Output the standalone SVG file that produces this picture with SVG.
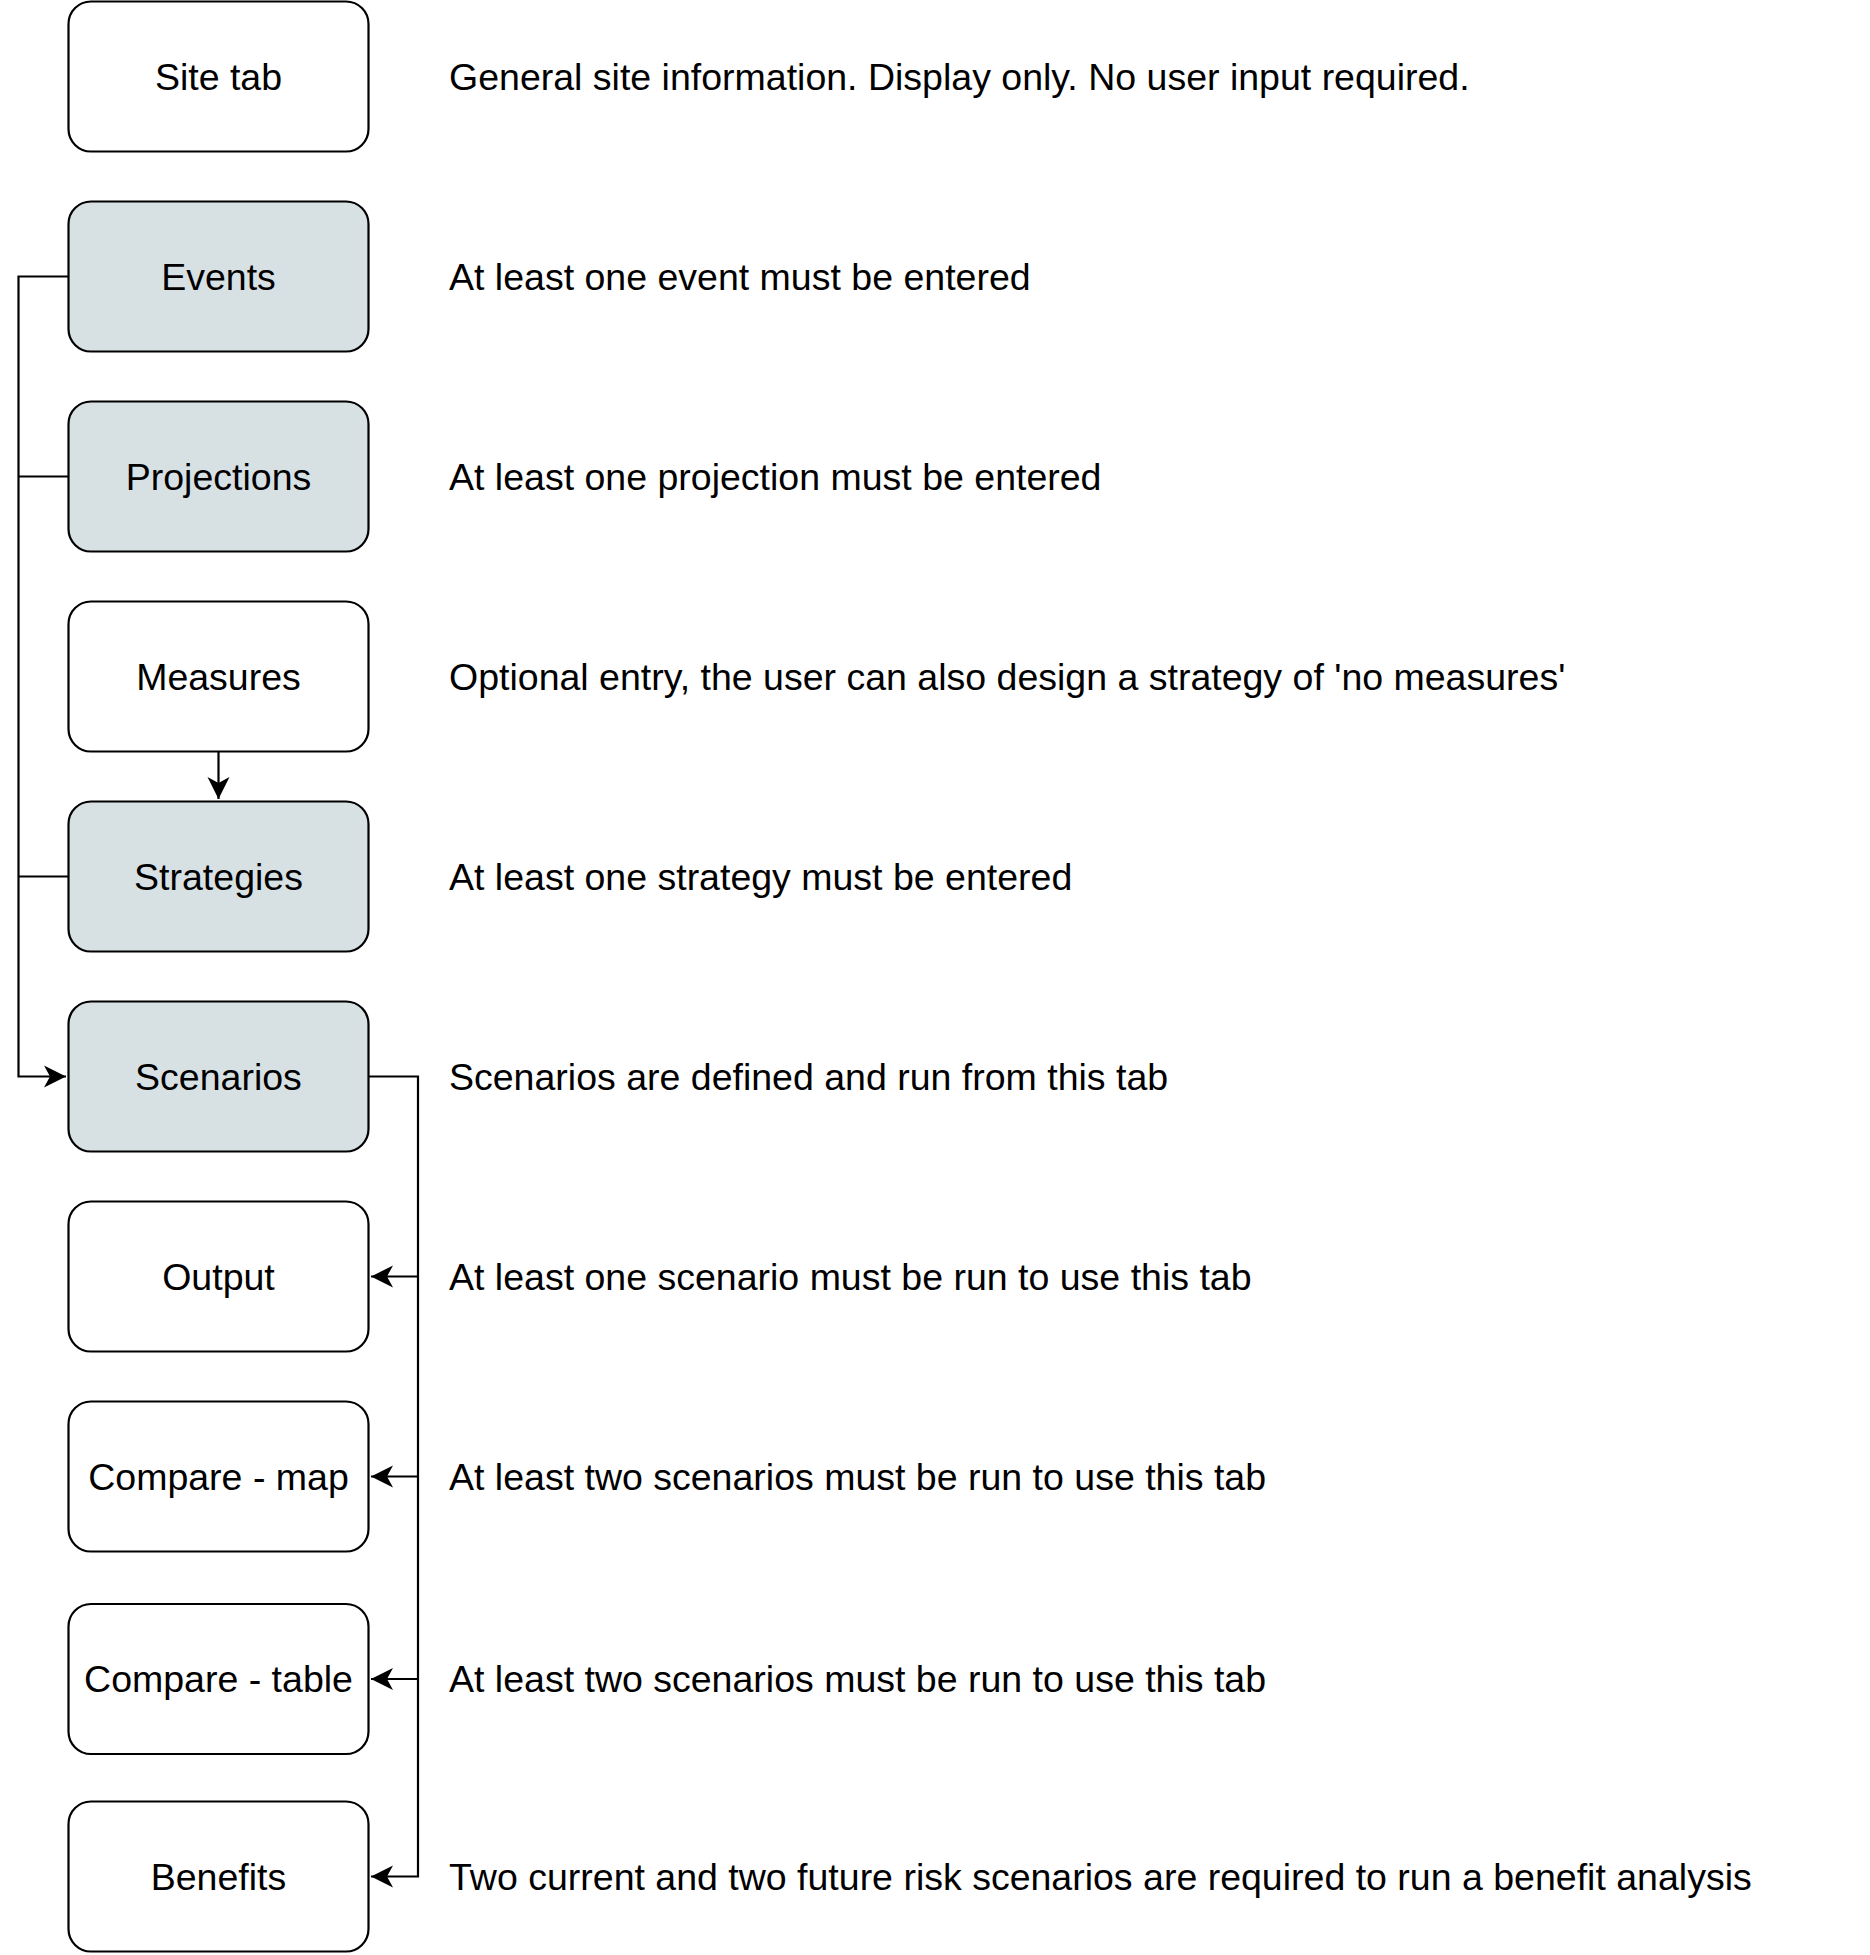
<svg xmlns="http://www.w3.org/2000/svg" width="1870" height="1955" viewBox="0 0 1870 1955">
<style>
.box{fill:#ffffff;stroke:#000000;stroke-width:2.2}
.req{fill:#d7e1e4}
.lbl{font-family:"Liberation Sans",Arial,Helvetica,sans-serif;font-size:37.5px;fill:#000000;text-anchor:middle}
.note{font-family:"Liberation Sans",Arial,Helvetica,sans-serif;font-size:37.5px;fill:#000000}
.edge{fill:none;stroke:#000000;stroke-width:2.2}
</style>
<defs>
<marker id="arr" markerUnits="userSpaceOnUse" markerWidth="24" markerHeight="24" refX="22" refY="11" orient="auto" viewBox="0 0 24 22">
<path d="M22,11 L0,0 L6,11 L0,22 Z" fill="#000000"/>
</marker>
</defs>
<rect width="1870" height="1955" fill="#ffffff"/>
<g id="connectors">
<path class="edge" d="M68.5,276.5 H18.5 V1076.5 H66" marker-end="url(#arr)"/>
<path class="edge" d="M68.5,476.5 H18.5"/>
<path class="edge" d="M68.5,876.5 H18.5"/>
<path class="edge" d="M218.5,751.5 V799" marker-end="url(#arr)"/>
<path class="edge" d="M368.5,1076.5 H418 V1876.5 H371" marker-end="url(#arr)"/>
<path class="edge" d="M418,1276.5 H371" marker-end="url(#arr)"/>
<path class="edge" d="M418,1476.5 H371" marker-end="url(#arr)"/>
<path class="edge" d="M418,1679 H371" marker-end="url(#arr)"/>
</g>
<g id="site">
<rect class="box" x="68.5" y="1.5" width="300" height="150" rx="22.5"/>
<text class="lbl" x="218.5" y="89.5">Site tab</text>
<text class="note" x="449" y="89.5">General site information. Display only. No user input required.</text>
</g>
<g id="events">
<rect class="box req" x="68.5" y="201.5" width="300" height="150" rx="22.5"/>
<text class="lbl" x="218.5" y="289.5">Events</text>
<text class="note" x="449" y="289.5">At least one event must be entered</text>
</g>
<g id="projections">
<rect class="box req" x="68.5" y="401.5" width="300" height="150" rx="22.5"/>
<text class="lbl" x="218.5" y="489.5">Projections</text>
<text class="note" x="449" y="489.5">At least one projection must be entered</text>
</g>
<g id="measures">
<rect class="box" x="68.5" y="601.5" width="300" height="150" rx="22.5"/>
<text class="lbl" x="218.5" y="689.5">Measures</text>
<text class="note" x="449" y="689.5">Optional entry, the user can also design a strategy of 'no measures'</text>
</g>
<g id="strategies">
<rect class="box req" x="68.5" y="801.5" width="300" height="150" rx="22.5"/>
<text class="lbl" x="218.5" y="889.5">Strategies</text>
<text class="note" x="449" y="889.5">At least one strategy must be entered</text>
</g>
<g id="scenarios">
<rect class="box req" x="68.5" y="1001.5" width="300" height="150" rx="22.5"/>
<text class="lbl" x="218.5" y="1089.5">Scenarios</text>
<text class="note" x="449" y="1089.5">Scenarios are defined and run from this tab</text>
</g>
<g id="output">
<rect class="box" x="68.5" y="1201.5" width="300" height="150" rx="22.5"/>
<text class="lbl" x="218.5" y="1289.5">Output</text>
<text class="note" x="449" y="1289.5">At least one scenario must be run to use this tab</text>
</g>
<g id="compare-map">
<rect class="box" x="68.5" y="1401.5" width="300" height="150" rx="22.5"/>
<text class="lbl" x="218.5" y="1489.5">Compare - map</text>
<text class="note" x="449" y="1489.5">At least two scenarios must be run to use this tab</text>
</g>
<g id="compare-table">
<rect class="box" x="68.5" y="1604" width="300" height="150" rx="22.5"/>
<text class="lbl" x="218.5" y="1692">Compare - table</text>
<text class="note" x="449" y="1692">At least two scenarios must be run to use this tab</text>
</g>
<g id="benefits">
<rect class="box" x="68.5" y="1801.5" width="300" height="150" rx="22.5"/>
<text class="lbl" x="218.5" y="1889.5">Benefits</text>
<text class="note" x="449" y="1889.5">Two current and two future risk scenarios are required to run a benefit analysis</text>
</g>
</svg>
